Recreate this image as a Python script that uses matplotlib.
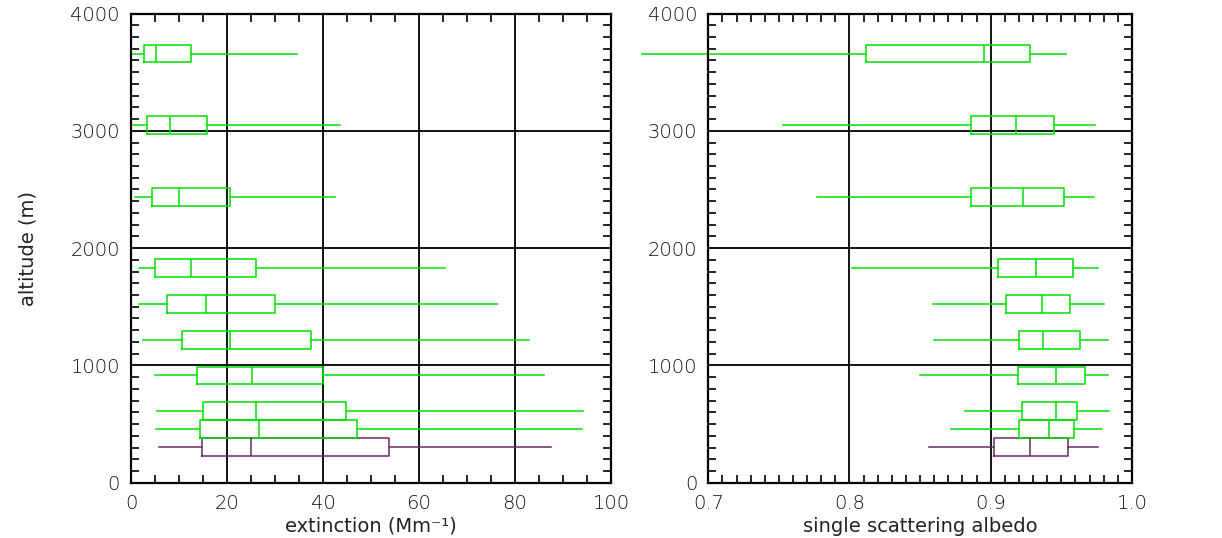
import matplotlib
matplotlib.use("Agg")
import matplotlib.pyplot as plt
from matplotlib.ticker import MultipleLocator

# altitude levels (m), bottom to top
altitude = [305, 457, 610, 914, 1219, 1524, 1829, 2438, 3048, 3658]
box_colors = ["#6a2a6a"] + ["#00e000"] * 9

# extinction (Mm-1): whisker low, q1, median, q3, whisker high
ext_lo = [5.9, 5.2, 5.4, 5.1, 2.6, 1.7, 1.7, 0.8, 0.35, 0.5]
ext_q1 = [14.7, 14.4, 14.9, 13.8, 10.6, 7.6, 4.9, 4.4, 3.4, 2.8]
ext_med = [25.1, 26.6, 26.0, 25.2, 20.7, 15.6, 12.5, 9.9, 8.1, 5.2]
ext_q3 = [53.7, 47.1, 44.7, 39.9, 37.4, 30.1, 26.1, 20.7, 15.9, 12.4]
ext_hi = [87.4, 94.0, 94.2, 86.0, 83.0, 76.2, 65.4, 42.4, 43.5, 34.5]

# single scattering albedo
ssa_lo = [0.856, 0.872, 0.882, 0.850, 0.860, 0.859, 0.802, 0.777, 0.753, 0.653]
ssa_q1 = [0.902, 0.920, 0.922, 0.919, 0.920, 0.911, 0.905, 0.886, 0.886, 0.812]
ssa_med = [0.928, 0.941, 0.946, 0.946, 0.937, 0.936, 0.932, 0.923, 0.918, 0.895]
ssa_q3 = [0.955, 0.959, 0.961, 0.967, 0.963, 0.956, 0.958, 0.952, 0.945, 0.928]
ssa_hi = [0.976, 0.979, 0.984, 0.983, 0.983, 0.980, 0.976, 0.973, 0.974, 0.953]

plt.rcParams["font.family"] = "DejaVu Sans"
plt.rcParams["font.weight"] = "light"
plt.rcParams["font.size"] = 14


#-------------------------------------------------------------------------------
def draw_boxes(ax, lo, q1, med, q3, hi):
    """ Draw horizontal boxes, one per altitude level """
    for i, alt in enumerate(altitude):
        stats = [dict(whislo=lo[i], q1=q1[i], med=med[i], q3=q3[i],
                      whishi=hi[i], fliers=[])]
        col = box_colors[i]
        art = ax.bxp(stats, positions=[alt], widths=150,
                     orientation="horizontal", showcaps=False,
                     showfliers=False, manage_ticks=False,
                     boxprops=dict(color=col, lw=1.1),
                     medianprops=dict(color=col, lw=1.1),
                     whiskerprops=dict(color=col, lw=1.1))
        for w in art["whiskers"]:
            w.set_clip_on(False)


def style_axes(ax, xmajor, xminor):
    ax.set_ylim(0, 4000)
    ax.yaxis.set_major_locator(MultipleLocator(1000))
    ax.yaxis.set_minor_locator(MultipleLocator(100))
    ax.xaxis.set_major_locator(MultipleLocator(xmajor))
    ax.xaxis.set_minor_locator(MultipleLocator(xminor))
    ax.grid(True, which="major", color="black", lw=1.3)
    ax.set_axisbelow(True)
    ax.tick_params(which="major", length=0, labelsize=14, labelcolor="#111111")
    ax.tick_params(axis="x", which="major", pad=8)
    ax.tick_params(axis="y", which="major", pad=8)
    ax.tick_params(which="minor", direction="in", length=6, width=1.2,
                   top=True, right=True, bottom=True, left=True)
    for sp in ax.spines.values():
        sp.set_linewidth(1.6)


fig = plt.figure(figsize=(12.22, 5.38), dpi=100)
ax1 = fig.add_axes([0.1072, 0.1028, 0.3928, 0.8721])
ax2 = fig.add_axes([0.5796, 0.1028, 0.3467, 0.8721])

draw_boxes(ax1, ext_lo, ext_q1, ext_med, ext_q3, ext_hi)
ax1.set_xlim(0, 100)
style_axes(ax1, 20, 5)
ax1.set_xlabel("extinction (Mm⁻¹)", labelpad=3, color="#222222")
ax1.set_ylabel("altitude (m)", labelpad=24, color="#222222")

draw_boxes(ax2, ssa_lo, ssa_q1, ssa_med, ssa_q3, ssa_hi)
ax2.set_xlim(0.7, 1.0)
style_axes(ax2, 0.1, 0.01)
ax2.xaxis.set_major_formatter(lambda v, p: "%.1f" % v)
ax2.set_xlabel("single scattering albedo", labelpad=3, color="#222222")

fig.savefig("out.png", dpi=100)
